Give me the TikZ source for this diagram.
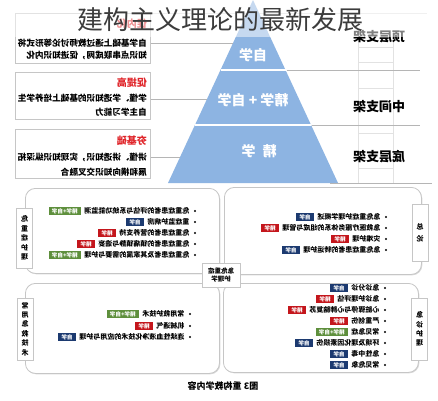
\documentclass[tikz,border=0pt]{standalone}
\usepackage{fontspec}
\usepackage{graphicx}
\setmainfont{Noto Sans CJK SC}
\usetikzlibrary{shadows,calc}
\definecolor{pyr}{HTML}{8DB4E2}
\definecolor{tgreen}{HTML}{5E8F3C}
\definecolor{tnavy}{HTML}{1C3A70}
\definecolor{tred}{HTML}{C4161C}
\definecolor{hred}{HTML}{E0252A}
\definecolor{framec}{HTML}{C6C6C6}
\definecolor{linec}{HTML}{B5B5B5}
\definecolor{ladc}{HTML}{E2E2E2}
\definecolor{titlec}{HTML}{3C3C3C}
\newcommand\rf[1]{\reflectbox{#1}}
\newcommand\fs[1]{\fontsize{#1}{#1}\selectfont}
\tikzset{
  sh/.style={drop shadow={opacity=0.3,shadow xshift=0.9pt,shadow yshift=-0.9pt}},
  topbox/.style={draw=framec, fill=white, line width=0.7pt, sh, anchor=north west, inner sep=0pt},
  bigbox/.style={draw=framec, fill=white, line width=0.8pt, rounded corners=10pt, sh, anchor=north west, inner sep=0pt},
  tabbox/.style={draw=framec, fill=white, line width=0.7pt, sh, align=center, font=\bfseries\fontsize{7}{9.4}\selectfont, inner xsep=1.5pt, inner ysep=0pt, minimum width=16pt},
  hdr/.style={text=hred, font=\bfseries\fs{10}, inner sep=0pt, anchor=east},
  body/.style={text=black, font=\bfseries\fs{8.6}, inner sep=0pt, anchor=east},
  pyl/.style={text=white, font=\bfseries\fs{14}, inner sep=0pt},
  sidelab/.style={text=black, font=\bfseries\fs{13}, inner sep=0pt},
  conn/.style={draw=linec, line width=0.7pt},
  bul/.style={circle, fill=black, inner sep=0pt, minimum size=2.4pt},
  itemtxt/.style={text=black, font=\bfseries\fs{7}, inner sep=0pt, anchor=east},
  tagbox/.style={text=white, font=\bfseries\fs{5.6}, inner xsep=3.2pt, inner ysep=0pt, minimum height=8.3pt, anchor=east},
  tagG/.style={tagbox, fill=tgreen},
  tagN/.style={tagbox, fill=tnavy},
  tagR/.style={tagbox, fill=tred},
}
\newcommand\itm[6]{%
  \node[bul] (#1d) at (#3,#2) {};
  \node[itemtxt] (#1t) at ($(#1d)+(-5.5,0)$) {\rf{#4}};
  \node[#5] (#1g) at ($(#1t.west)+(-3,0)$) {\rf{#6}};
}
\begin{document}
\begin{tikzpicture}[x=1pt,y=-1pt]
\useasboundingbox (0,0) rectangle (438,400);
\fill[white] (0,0) rectangle (438,400);

% ladder
\draw[ladc, line width=1pt] (358,30) -- (358,183) (393,30) -- (393,183);
\foreach \yy in {47,62,88,133,168} \draw[ladc, line width=1pt] (358,\yy) -- (393,\yy);
\draw[ladc, line width=0.6pt] (150,13) -- (427,13);

% pyramid
\fill[pyr] (253,0) coordinate (apex) -- (338,183) coordinate (br) -- (168,183) coordinate (bl) -- cycle;
\draw[white, line width=1.5pt] (220.5,70) -- (285.5,70) (195,125) -- (311,125);
\draw[linec, line width=0.6pt] (286.5,70) -- (420,70) (312,125) -- (420,125) (330,183.5) -- (432,183.5);
\coordinate (p1) at (233,43);
\coordinate (p2) at (207,99);
\coordinate (p3) at (180,157);
\node[pyl] (pl1) at (253,55) {\rf{自学}};
\node[pyl] (pl2) at (253,100) {\rf{精学\hspace{3pt}+\hspace{3pt}自学}};
\node[pyl] (pl3) at (259,151) {\rf{精\hspace{7pt}学}};

\node[sidelab] (s1) at (379,37) {\rf{顶层支架}};
\node[sidelab] (s2) at (379,107) {\rf{中间支架}};
\node[sidelab] (s3) at (379,157) {\rf{底层支架}};

% left boxes
\node[topbox, minimum width=135pt, minimum height=50pt] (b1) at (15,13) {};
\node[topbox, minimum width=135pt, minimum height=47pt] (b2) at (15,72) {};
\node[topbox, minimum width=135pt, minimum height=49pt] (b3) at (15,129) {};
\node[hdr] (h1) at (147,24) {\rf{促内化}};
\node[body] (l1a) at (147,43) {\rf{自学基础上通过教师讨论等形式将}};
\node[body] (l1b) at (147,55) {\rf{知识点串联成网，促进知识内化}};
\node[hdr] (h2) at (147,83) {\rf{促提高}};
\node[body] (l2a) at (147,98) {\rf{学懂、学透知识的基础上培养学生}};
\node[body] (l2b) at (147,112) {\rf{自主学习能力}};
\node[hdr] (h3) at (147,141) {\rf{夯基础}};
\node[body] (l3a) at (147,157) {\rf{讲懂、讲透知识，实现知识纵深拓}};
\node[body] (l3b) at (147,172) {\rf{展和横向知识交叉融合}};
\draw[conn] (b1.east |- p1) -- (p1);
\draw[conn] (b2.east |- p2) -- (p2);
\draw[conn] (b3.east |- p3) -- (p3);

% bottom boxes
\node[bigbox, minimum width=194pt, minimum height=85pt] (q1) at (25,188) {};
\node[bigbox, minimum width=197pt, minimum height=87pt] (q2) at (224,187) {};
\node[bigbox, minimum width=194pt, minimum height=90pt] (q3) at (25,283) {};
\node[bigbox, minimum width=195pt, minimum height=89pt] (q4) at (223,283) {};

\node[draw=framec, fill=white, line width=0.7pt, sh, align=center, font=\bfseries\fontsize{6.5}{8}\selectfont, minimum width=38pt, minimum height=24pt, inner sep=1pt] (ctr) at (221,275) {\rf{急危重症}\\\rf{护理学}};

\node[tabbox, minimum height=60pt] (tb1) at (24.5,238) {\rf{危}\\\rf{重}\\\rf{症}\\\rf{护}\\\rf{理}};
\node[tabbox, minimum height=57pt] (tb2) at (420,233) {\rf{总}\\[2pt]\rf{论}};
\node[tabbox, minimum height=62pt] (tb3) at (419.5,329) {\rf{急}\\\rf{诊}\\\rf{护}\\\rf{理}};
\node[tabbox, minimum height=62pt] (tb4) at (25,329) {\rf{常}\\\rf{用}\\\rf{急}\\\rf{救}\\\rf{技}\\\rf{术}};

% top-left items
\itm{a1}{211}{195}{危重症患者的评估与系统功能监测}{tagG}{精学+自学}
\itm{a2}{222}{195}{重症监护病房}{tagN}{自学}
\itm{a3}{233}{195}{危重症患者的营养支持}{tagR}{精学}
\itm{a4}{244}{195}{危重症患者的镇痛镇静与谵妄}{tagR}{精学}
\itm{a5}{255}{195}{危重症患者及其家属的需要与护理}{tagG}{精学+自学}

% top-right items
\itm{c1}{217}{386}{急危重症护理学概述}{tagN}{自学}
\itm{c2}{228}{386}{急救医疗服务体系的组成与管理}{tagR}{精学}
\itm{c3}{239}{386}{灾难护理}{tagR}{精学}
\itm{c4}{250}{386}{急危重症患者的转运护理}{tagN}{自学}

% bottom-right items
\itm{e1}{288}{385}{急诊分诊}{tagN}{自学}
\itm{e2}{299}{385}{急诊护理评估}{tagR}{精学}
\itm{e3}{310}{385}{心脏骤停与心肺脑复苏}{tagR}{精学}
\itm{e4}{321}{385}{严重创伤}{tagR}{精学}
\itm{e5}{332}{385}{常见急症}{tagG}{精学+自学}
\itm{e6}{343}{385}{环境及理化因素损伤}{tagN}{自学}
\itm{e7}{354}{385}{急性中毒}{tagN}{自学}
\itm{e8}{365}{385}{常见危象}{tagN}{自学}

% bottom-left items
\itm{f1}{314}{190}{常用救护技术}{tagG}{精学+自学}
\itm{f2}{326}{190}{机械通气}{tagR}{精学}
\itm{f3}{337}{190}{连续性血液净化技术的应用与护理}{tagN}{自学}

\node[font=\bfseries\fs{9}, inner sep=0pt] (cap) at (223,386) {\rf{图3 重构教学内容}};

% title overlay
\fill[white, opacity=0.5] (0,0) rectangle (438,37);
\node[text=titlec, font=\fs{26}, inner sep=0pt] (title) at (220,20) {建构主义理论的最新发展};
\end{tikzpicture}
\end{document}
